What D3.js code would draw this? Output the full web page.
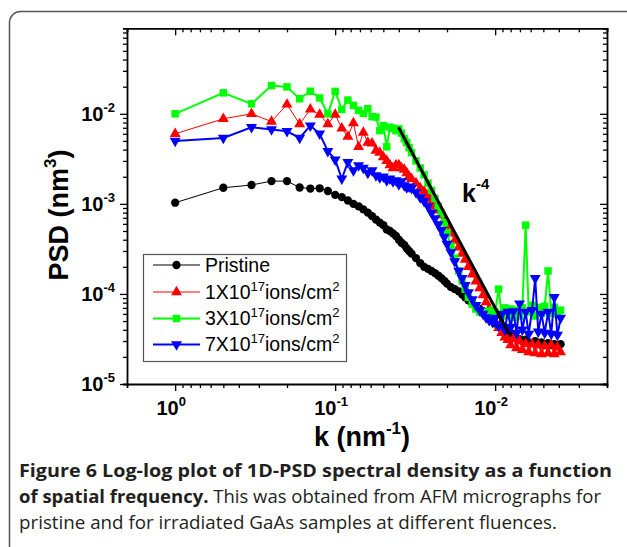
<!DOCTYPE html>
<html>
<head>
<meta charset="utf-8">
<script src="https://cdnjs.cloudflare.com/ajax/libs/d3/7.8.5/d3.min.js"></script>
<style>
  body { margin: 0; background: #fff; }
  svg { display: block; }
</style>
</head>
<body>
<div id="chart-area"></div>
<script>
// spatial frequency k (nm^-1), shared by all four series
const kValues = [
  1, 0.5, 0.3333, 0.25, 0.2, 0.1667, 0.1429, 0.125, 0.1111, 0.1,
  0.0909, 0.0833, 0.0769, 0.0714, 0.0667, 0.0625, 0.0588, 0.0556, 0.0526, 0.05,
  0.0476, 0.0455, 0.0435, 0.0417, 0.04, 0.0385, 0.037, 0.0357, 0.0345, 0.0333,
  0.03125, 0.0294, 0.0278, 0.0263, 0.025, 0.0238, 0.0227, 0.0217, 0.0208, 0.02,
  0.0189, 0.0179, 0.0169, 0.0161, 0.0154, 0.0147, 0.0139, 0.0132, 0.0125, 0.0119,
  0.0114, 0.0109, 0.0104, 0.01, 0.00952, 0.00909, 0.0087, 0.00833, 0.008, 0.00769,
  0.00735, 0.00704, 0.00676, 0.00645, 0.00617, 0.00588, 0.00562, 0.00538, 0.00513, 0.0049,
  0.00467, 0.00446, 0.00427, 0.00408, 0.0039
];

// PSD (nm^3)
const pristine = [
  0.00103, 0.00151, 0.00162, 0.00179, 0.00179, 0.00152, 0.00148, 0.00149, 0.00139, 0.00126,
  0.00119, 0.00109, 0.00100, 0.00094, 0.00087, 0.00080, 0.00073, 0.00067, 0.00062, 0.00058,
  0.00052, 0.00050, 0.00047, 0.00044, 0.00040, 0.00037, 0.00035, 0.00032, 0.00030, 0.00028,
  0.00025, 0.00022, 0.00020, 0.00019, 0.00018, 0.00017, 0.00016, 0.00015, 0.00014, 0.00013,
  0.000119, 0.000113, 0.000107, 0.000099, 0.000092, 0.000085, 0.000079, 0.000073, 0.000068, 0.000063,
  0.000058, 0.000054, 0.000050, 0.000047, 0.000044, 0.000042, 0.000039, 0.000037, 0.000035, 0.000033,
  0.000032, 0.0000315, 0.000030, 0.000031, 0.000029, 0.0000284, 0.000030, 0.0000277, 0.000029, 0.000027,
  0.0000284, 0.000027, 0.0000277, 0.0000263, 0.0000277
];
const ions1e17 = [
  0.0060, 0.0088, 0.0100, 0.0082, 0.0127, 0.0077, 0.0112, 0.0098, 0.0077, 0.0098,
  0.0069, 0.0056, 0.0079, 0.0043, 0.0062, 0.0048, 0.0047, 0.0039, 0.0037, 0.0033,
  0.0030, 0.0027, 0.0025, 0.0027, 0.0027, 0.0025, 0.0024, 0.0022, 0.0020, 0.0019,
  0.0017, 0.0015, 0.00138, 0.00124, 0.00109, 0.00094, 0.00085, 0.00075, 0.00066, 0.00056,
  0.00047, 0.00039, 0.00033, 0.00028, 0.00024, 0.00020, 0.000165, 0.000138, 0.000116, 0.000097,
  0.000081, 0.000068, 0.000057, 0.000049, 0.000042, 0.000037, 0.000033, 0.000031, 0.000027, 0.000032,
  0.000025, 0.000030, 0.000024, 0.000028, 0.0000226, 0.0000277, 0.000022, 0.000027, 0.0000215, 0.0000263,
  0.000022, 0.000027, 0.0000215, 0.0000256, 0.0000226
];
const ions3e17 = [
  0.0100, 0.0171, 0.0129, 0.0206, 0.0199, 0.0147, 0.0178, 0.0150, 0.0100, 0.0177,
  0.0112, 0.0142, 0.0124, 0.0109, 0.0101, 0.0114, 0.0093, 0.0092, 0.0065, 0.0074,
  0.0043, 0.0071, 0.0069, 0.0065, 0.0068, 0.0061, 0.0053, 0.0048, 0.0042, 0.0037,
  0.0030, 0.0025, 0.0021, 0.0017, 0.00141, 0.00115, 0.00094, 0.00079, 0.00062, 0.00048,
  0.00034, 0.00025, 0.00018, 0.00014, 0.000113, 0.000092, 0.000077, 0.000068, 0.000063, 0.000061,
  0.000064, 0.000060, 0.000066, 0.000063, 0.000113, 0.000058, 0.000070, 0.000057, 0.000068, 0.000055,
  0.000066, 0.000057, 0.000070, 0.00058, 0.000063, 0.000075, 0.000057, 0.000071, 0.000061, 0.000073,
  0.00018, 0.000061, 0.000071, 0.000060, 0.000066
];
const ions7e17 = [
  0.0050, 0.0054, 0.0071, 0.0067, 0.0064, 0.0054, 0.0074, 0.0060, 0.00385, 0.0031,
  0.0019, 0.0029, 0.00235, 0.00267, 0.0025, 0.0022, 0.00235, 0.00207, 0.00197, 0.0020,
  0.00182, 0.0019, 0.00177, 0.00182, 0.00164, 0.00177, 0.0016, 0.00152, 0.00155, 0.00149,
  0.00134, 0.00118, 0.00107, 0.00094, 0.00080, 0.00069, 0.00059, 0.00051, 0.00043, 0.00036,
  0.00029, 0.00023, 0.00018, 0.00015, 0.000125, 0.000104, 0.000087, 0.000075, 0.000066, 0.000060,
  0.000055, 0.000051, 0.000049, 0.000054, 0.000044, 0.000060, 0.000040, 0.000063, 0.000043, 0.000064,
  0.000037, 0.000078, 0.000040, 0.000063, 0.000036, 0.000066, 0.00015, 0.000038, 0.000060, 0.000037,
  0.000063, 0.000036, 0.000092, 0.000035, 0.000054
];

// the k^-4 guide line
const fitK = [0.0402, 0.00833];
const fitPsd = [0.0071, 0.000038];

const xMajor = [1, 0.1, 0.01];
const xMinor = [0.9, 0.8, 0.7, 0.6, 0.5, 0.4, 0.3, 0.2,
                0.09, 0.08, 0.07, 0.06, 0.05, 0.04, 0.03, 0.02,
                0.009, 0.008, 0.007, 0.006, 0.005, 0.004, 0.003];
const xExponents = ["0", "-1", "-2"];
const yMajor = [1e-5, 1e-4, 1e-3, 1e-2];
const yMinor = [2e-5, 3e-5, 4e-5, 5e-5, 6e-5, 7e-5, 8e-5, 9e-5,
                2e-4, 3e-4, 4e-4, 5e-4, 6e-4, 7e-4, 8e-4, 9e-4,
                2e-3, 3e-3, 4e-3, 5e-3, 6e-3, 7e-3, 8e-3, 9e-3,
                2e-2, 3e-2, 4e-2, 5e-2, 6e-2, 7e-2, 8e-2];
const yExponents = ["-5", "-4", "-3", "-2"];

const W = 627, H = 547;
const plotLeft = 127, plotRight = 607, plotTop = 28.3, plotBottom = 384;
const axisFont = "'Liberation Sans', Arial, sans-serif";

const svg = d3.select("#chart-area").append("svg")
    .attr("width", W)
    .attr("height", H)

// figure frame (rounded, runs off the page to the right and bottom)
svg.append("rect")
    .attr("x", 9.5).attr("y", 11.5)
    .attr("width", 700).attr("height", 600)
    .attr("rx", 11)
    .attr("fill", "none")
    .attr("stroke", "#555")
    .attr("stroke-width", 1.5)

const x = d3.scaleLog().domain([2, 0.002]).range([plotLeft, plotRight])
const y = d3.scaleLog().domain([1e-5, 0.089]).range([plotBottom, plotTop])

// axes: ticks outside on left/bottom, inside on the mirrored top/right
const xTicksAll = xMajor.concat(xMinor)
const yTicksAll = yMajor.concat(yMinor)
const majorLen = 7, minorLen = 4

function addAxis(gen, tr, vals, major, sign) {
    const g = svg.append("g").attr("transform", tr)
        .call(gen.tickValues(vals).tickSizeOuter(0).tickSize(minorLen * sign).tickFormat(""))
    g.select(".domain").attr("stroke", "#000").attr("stroke-width", 1.8)
    g.selectAll(".tick line").attr("stroke", "#000").attr("stroke-width", 1.3)
    g.selectAll(".tick").filter(d => major.includes(d)).select("line")
        .each(function () {
            const l = d3.select(this)
            if (+l.attr("x2")) l.attr("x2", Math.sign(+l.attr("x2")) * majorLen)
            if (+l.attr("y2")) l.attr("y2", Math.sign(+l.attr("y2")) * majorLen)
        })
    return g
}
addAxis(d3.axisBottom(x), `translate(0,${plotBottom})`, xTicksAll, xMajor, 1)
addAxis(d3.axisTop(x), `translate(0,${plotTop})`, xTicksAll, xMajor, -1)
addAxis(d3.axisLeft(y), `translate(${plotLeft},0)`, yTicksAll, yMajor, 1)
addAxis(d3.axisRight(y), `translate(${plotRight},0)`, yTicksAll, yMajor, -1)

// tick labels as 10 with a superscript exponent
const xl = svg.selectAll(".xlab").data(xMajor).enter().append("text")
    .attr("class", "xlab")
    .attr("x", d => x(d) - 4)
    .attr("y", plotBottom + 31)
    .attr("text-anchor", "middle")
    .attr("font-family", axisFont).attr("font-weight", "bold").attr("font-size", 20)
xl.append("tspan").text("10")
xl.append("tspan").attr("dy", -9).attr("font-size", 13).text((d, i) => xExponents[i])

const yl = svg.selectAll(".ylab").data(yMajor).enter().append("text")
    .attr("class", "ylab")
    .attr("x", plotLeft - 12)
    .attr("y", d => y(d) + 7.4)
    .attr("text-anchor", "end")
    .attr("font-family", axisFont).attr("font-weight", "bold").attr("font-size", 20)
yl.append("tspan").text("10")
yl.append("tspan").attr("dy", -9).attr("font-size", 13).text((d, i) => yExponents[i])

// axis titles
const xt = svg.append("text")
    .attr("x", 362).attr("y", 446)
    .attr("text-anchor", "middle")
    .attr("font-family", axisFont).attr("font-weight", "bold").attr("font-size", 27)
xt.append("tspan").text("k (nm")
xt.append("tspan").attr("dy", -12).attr("font-size", 17).text("-1")
xt.append("tspan").attr("dy", 12).text(")")

const yt = svg.append("text")
    .attr("transform", "translate(68,215) rotate(-90)")
    .attr("text-anchor", "middle")
    .attr("font-family", axisFont).attr("font-weight", "bold").attr("font-size", 27)
yt.append("tspan").text("PSD (nm")
yt.append("tspan").attr("dy", -12).attr("font-size", 17).text("3")
yt.append("tspan").attr("dy", 12).text(")")

// series
const series = [
    {name: "Pristine", values: pristine, color: "#000", symbol: d3.symbolCircle, size: 54, rot: 0, width: 1},
    {name: "1", values: ions1e17, color: "#ff0000", symbol: d3.symbolTriangle, size: 52, rot: 0, width: 1},
    {name: "3", values: ions3e17, color: "#00ff00", symbol: d3.symbolSquare, size: 56, rot: 0, width: 2},
    {name: "7", values: ions7e17, color: "#0000ff", symbol: d3.symbolTriangle, size: 52, rot: 180, width: 2}
]

const line = d3.line()
    .x(d => x(d.k))
    .y(d => y(d.v))

series.forEach(s => {
    const pts = kValues.map((k, i) => ({k: k, v: s.values[i]}))
    const g = svg.append("g")
    g.append("path")
        .datum(pts)
        .attr("d", line)
        .attr("fill", "none")
        .attr("stroke", s.color)
        .attr("stroke-width", s.width)
    g.selectAll("path.mark")
        .data(pts)
        .enter().append("path")
        .attr("class", "mark")
        .attr("d", d3.symbol().type(s.symbol).size(s.size))
        .attr("transform", d => `translate(${x(d.k)},${y(d.v)}) rotate(${s.rot})`)
        .attr("fill", s.color)
})

// k^-4 guide
svg.append("path")
    .datum(fitK.map((k, i) => ({k: k, v: fitPsd[i]})))
    .attr("d", line)
    .attr("stroke", "#000")
    .attr("stroke-width", 3)
    .attr("fill", "none")

const kl = svg.append("text")
    .attr("x", 462).attr("y", 202)
    .attr("font-family", axisFont).attr("font-weight", "bold").attr("font-size", 25)
kl.append("tspan").text("k")
kl.append("tspan").attr("dy", -13).attr("font-size", 15).text("-4")

// legend
svg.append("rect")
    .attr("x", 143.5).attr("y", 254.5)
    .attr("width", 203).attr("height", 107)
    .attr("fill", "#fff")
    .attr("stroke", "#555")
    .attr("stroke-width", 1.2)

const rowY = [265, 292, 318.5, 344.5]
series.forEach((s, i) => {
    const g = svg.append("g").attr("transform", `translate(0,${rowY[i]})`)
    g.append("line")
        .attr("x1", 153).attr("x2", 200)
        .attr("stroke", s.color).attr("stroke-width", s.width)
    g.append("path")
        .attr("d", d3.symbol().type(s.symbol).size(s.size))
        .attr("transform", `translate(176.5,0) rotate(${s.rot})`)
        .attr("fill", s.color)
    const t = g.append("text")
        .attr("x", 205).attr("y", 6.8)
        .attr("font-family", axisFont).attr("font-size", 19.5)
    if (i === 0) {
        t.text(s.name)
    } else {
        t.append("tspan").text(s.name + "X10")
        t.append("tspan").attr("dy", -8).attr("font-size", 13).text("17")
        t.append("tspan").attr("dy", 8).text("ions/cm")
        t.append("tspan").attr("dy", -8).attr("font-size", 13).text("2")
    }
})

// caption
const capFont = "'Open Sans', 'Noto Sans', sans-serif"
svg.append("text")
    .attr("x", 19).attr("y", 477)
    .attr("font-family", capFont).attr("font-size", 18).attr("font-weight", "bold")
    .attr("fill", "#231f20")
    .attr("textLength", 593).attr("lengthAdjust", "spacingAndGlyphs")
    .text("Figure 6 Log-log plot of 1D-PSD spectral density as a function")
const cap2 = svg.append("text")
    .attr("x", 19).attr("y", 503)
    .attr("font-family", capFont).attr("font-size", 18)
    .attr("fill", "#231f20")
    .attr("textLength", 582).attr("lengthAdjust", "spacingAndGlyphs")
cap2.append("tspan").attr("font-weight", "bold").text("of spatial frequency.")
cap2.append("tspan").text(" This was obtained from AFM micrographs for")
svg.append("text")
    .attr("x", 19).attr("y", 529)
    .attr("font-family", capFont).attr("font-size", 18)
    .attr("fill", "#231f20")
    .attr("textLength", 538).attr("lengthAdjust", "spacingAndGlyphs")
    .text("pristine and for irradiated GaAs samples at different fluences.")
</script>
</body>
</html>
